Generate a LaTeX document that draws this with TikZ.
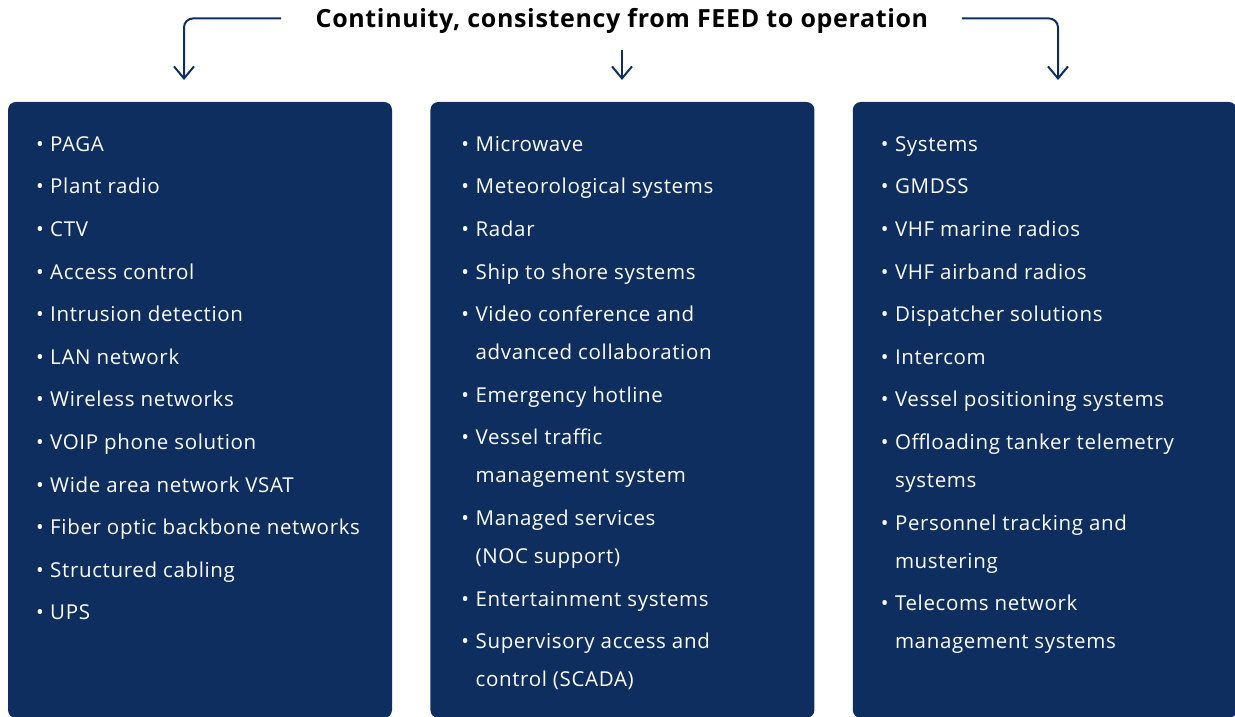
\documentclass[tikz,border=0pt]{standalone}
\usepackage{fontspec}
\setmainfont{Open Sans}
\usetikzlibrary{arrows.meta, positioning}
\definecolor{navy}{RGB}{14,46,96}

\begin{document}
\begin{tikzpicture}[
  x=1pt, y=1pt,
  panel/.style = {fill=navy, rounded corners=8pt, minimum width=384pt, minimum height=616pt, inner sep=0pt},
  list/.style = {text=white, inner sep=0pt, anchor=base west,
    font=\fontsize{20.5}{38}\selectfont\addfontfeature{LetterSpace=3.2}},
  flow/.style = {navy, line width=2pt, rounded corners=9pt, -{Straight Barb[length=12pt, width=20pt]}},
  node distance=38pt
]
\useasboundingbox (0,0) rectangle (1235,717);

% Panels
\node[panel] (leftbox) at (200,307) {};
\node[panel, right=of leftbox] (midbox) {};
\node[panel, right=of midbox] (rightbox) {};

% Title
\node[font=\fontsize{25}{30}\selectfont\bfseries\addfontfeature{LetterSpace=2.6}, anchor=base] (title) at (622,689)
  {Continuity, consistency from FEED to operation};

% Arrow tips above the panels
\coordinate (lefttip) at (184,637);
\coordinate (midtip) at (622,637);
\coordinate (righttip) at (1058,637);

\draw[flow, shorten <=31pt] ([yshift=3pt]title.west) -| (lefttip);
\draw[flow, shorten <=12pt] (title.south) -- (midtip);
\draw[flow, shorten <=30pt] ([yshift=3pt]title.east) -| (righttip);

% Left list
\node[list] (leftlist) at ([xshift=28pt, yshift=-49.5pt]leftbox.north west) {
  \begin{tabular}[t]{@{}l@{\hspace{6.5pt}}l@{}}
    \textbullet & PAGA \\[4.6pt]
    \textbullet & Plant radio \\[4.6pt]
    \textbullet & CTV \\[4.6pt]
    \textbullet & Access control \\[4.6pt]
    \textbullet & Intrusion detection \\[4.6pt]
    \textbullet & LAN network \\[4.6pt]
    \textbullet & Wireless networks \\[4.6pt]
    \textbullet & VOIP phone solution \\[4.6pt]
    \textbullet & Wide area network VSAT \\[4.6pt]
    \textbullet & Fiber optic backbone networks \\[4.6pt]
    \textbullet & Structured cabling \\[4.6pt]
    \textbullet & UPS
  \end{tabular}
};

% Middle list
\node[list] (midlist) at ([xshift=31pt, yshift=-49.5pt]midbox.north west) {
  \begin{tabular}[t]{@{}l@{\hspace{6.5pt}}l@{}}
    \textbullet & Microwave \\[4.6pt]
    \textbullet & Meteorological systems \\[4.6pt]
    \textbullet & Radar \\[4.6pt]
    \textbullet & Ship to shore systems \\[4.6pt]
    \textbullet & Video conference and \\
                & advanced collaboration \\[4.6pt]
    \textbullet & Emergency hotline \\[4.6pt]
    \textbullet & Vessel traffic \\
                & management system \\[4.6pt]
    \textbullet & Managed services \\
                & (NOC support) \\[4.6pt]
    \textbullet & Entertainment systems \\[4.6pt]
    \textbullet & Supervisory access and \\
                & control (SCADA)
  \end{tabular}
};

% Right list
\node[list] (rightlist) at ([xshift=28pt, yshift=-49.5pt]rightbox.north west) {
  \begin{tabular}[t]{@{}l@{\hspace{6.5pt}}l@{}}
    \textbullet & Systems \\[4.6pt]
    \textbullet & GMDSS \\[4.6pt]
    \textbullet & VHF marine radios \\[4.6pt]
    \textbullet & VHF airband radios \\[4.6pt]
    \textbullet & Dispatcher solutions \\[4.6pt]
    \textbullet & Intercom \\[4.6pt]
    \textbullet & Vessel positioning systems \\[4.6pt]
    \textbullet & Offloading tanker telemetry \\
                & systems \\[4.6pt]
    \textbullet & Personnel tracking and \\
                & mustering \\[4.6pt]
    \textbullet & Telecoms network \\
                & management systems
  \end{tabular}
};

\end{tikzpicture}
\end{document}
